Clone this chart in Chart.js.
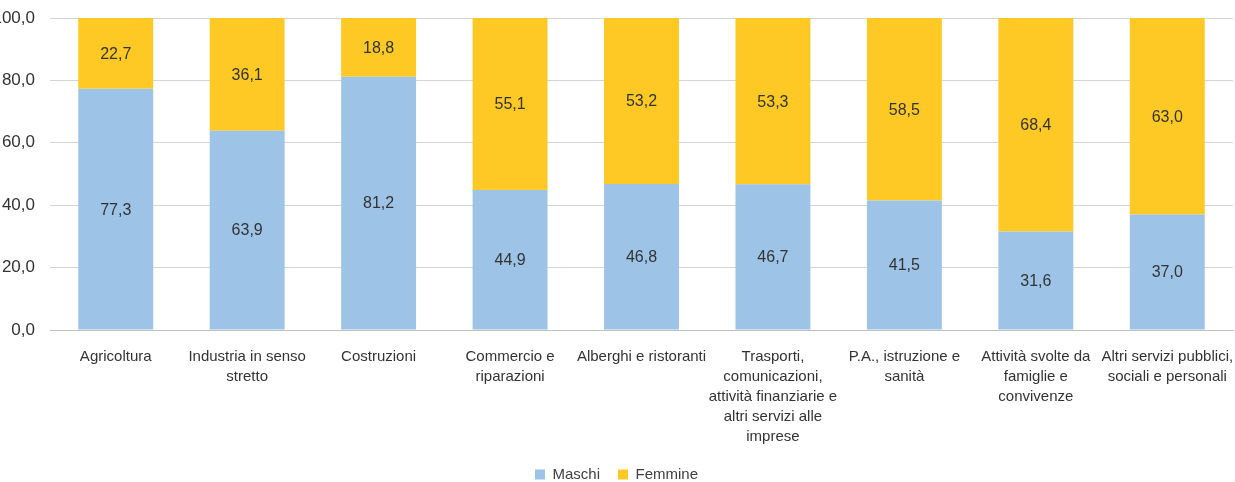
<!DOCTYPE html>
<html>
<head>
<meta charset="utf-8">
<script src="https://cdn.jsdelivr.net/npm/chart.js@4/dist/chart.umd.min.js"></script>
<style>
  html, body { margin: 0; padding: 0; background: #fff; }
  #wrap { width: 1235px; height: 482px; }
</style>
</head>
<body>
<div id="wrap"><canvas id="c" width="1235" height="482"></canvas></div>
<script>
const categories = [
  "Agricoltura",
  ["Industria in senso", "stretto"],
  "Costruzioni",
  ["Commercio e", "riparazioni"],
  "Alberghi e ristoranti",
  ["Trasporti,", "comunicazioni,", "attività finanziarie e", "altri servizi alle", "imprese"],
  ["P.A., istruzione e", "sanità"],
  ["Attività svolte da", "famiglie e", "convivenze"],
  ["Altri servizi pubblici,", "sociali e personali"]
];
const maschi = [77.3, 63.9, 81.2, 44.9, 46.8, 46.7, 41.5, 31.6, 37.0];
const femmine = [22.7, 36.1, 18.8, 55.1, 53.2, 53.3, 58.5, 68.4, 63.0];
const yTicks = [0, 20, 40, 60, 80, 100];

const FONT = "'Liberation Sans Narrow', 'Arial Narrow', 'Liberation Sans', Arial, sans-serif";
const fmt = v => v.toFixed(1).replace('.', ',');

const valueLabels = {
  id: 'valueLabels',
  afterDatasetsDraw(chart) {
    const ctx = chart.ctx;
    ctx.save();
    ctx.font = '16px ' + FONT;
    ctx.fillStyle = '#333333';
    ctx.textAlign = 'center';
    ctx.textBaseline = 'middle';
    chart.data.datasets.forEach((ds, i) => {
      chart.getDatasetMeta(i).data.forEach((bar, j) => {
        const p = bar.getProps(['x', 'y', 'base'], true);
        ctx.fillText(fmt(ds.data[j]), p.x, (p.y + p.base) / 2 + 1);
      });
    });
    ctx.restore();
  }
};

new Chart(document.getElementById('c'), {
  type: 'bar',
  data: {
    labels: categories,
    datasets: [
      { label: 'Maschi', data: maschi, backgroundColor: '#9DC3E6', categoryPercentage: 1, barPercentage: 0.57 },
      { label: 'Femmine', data: femmine, backgroundColor: '#FFC925', categoryPercentage: 1, barPercentage: 0.57 }
    ]
  },
  options: {
    responsive: false,
    animation: false,
    layout: { padding: { top: 18, right: 2, left: 0, bottom: -10 } },
    plugins: {
      tooltip: { enabled: false },
      legend: {
        position: 'bottom',
        labels: {
          boxWidth: 10, boxHeight: 10, padding: 18,
          color: '#404040',
          font: { family: FONT, size: 15 }
        }
      }
    },
    scales: {
      x: {
        stacked: true,
        afterFit(scale) { scale.paddingLeft = 0; scale.paddingRight = 0; scale.height = 119; },
        grid: { display: false, drawTicks: false },
        border: { color: '#BFBFBF', width: 1 },
        ticks: {
          color: '#333333',
          maxRotation: 0, autoSkip: false,
          padding: 17,
          font: { family: FONT, size: 15, lineHeight: 1.3333 }
        }
      },
      y: {
        stacked: true,
        min: 0, max: 100,
        afterFit(scale) { scale.width = 50; scale.paddingTop = 0; scale.paddingBottom = 0; },
        afterBuildTicks(scale) { scale.ticks = yTicks.map(v => ({ value: v })); },
        grid: { color: '#D4D4D4', drawTicks: false },
        border: { display: false },
        ticks: {
          color: '#333333',
          padding: 15,
          font: { family: FONT, size: 17 },
          callback: v => fmt(v)
        }
      }
    }
  },
  plugins: [valueLabels]
});
</script>
</body>
</html>
